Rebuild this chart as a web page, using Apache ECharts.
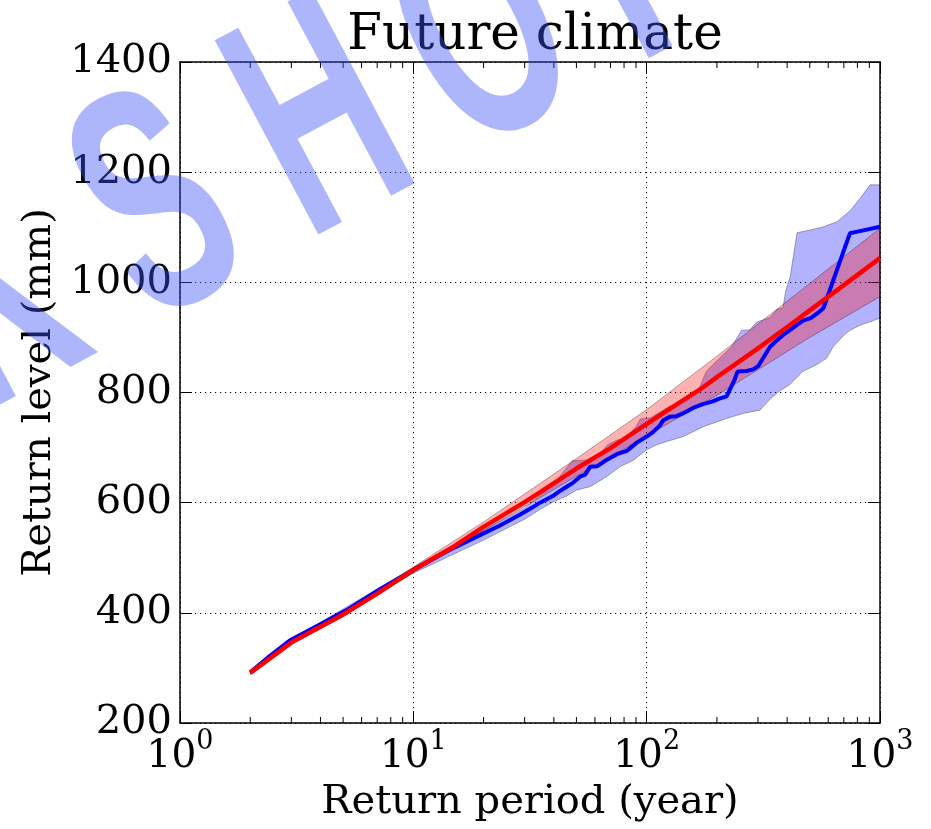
<!DOCTYPE html>
<html>
<head>
<meta charset="utf-8">
<script src="https://cdn.jsdelivr.net/npm/echarts@6/dist/echarts.min.js"></script>
<style>
  html, body { margin: 0; padding: 0; background: #fff; }
  #chart { width: 931px; height: 829px; }
</style>
</head>
<body>
<div id="chart"></div>
<script>
// Return periods (years) and return levels (mm)

// GEV fit (red line)
const fitLine = [
  [2, 291], [3, 346], [5, 397], [7, 435], [10, 478], [15, 521], [20, 556],
  [30, 601], [35, 619], [50, 662], [70, 699], [100, 743], [170, 806],
  [200, 828], [300, 880], [410, 922], [500, 949], [700, 995], [1000, 1044]
];
// Confidence band of the fit (red band)
const fitUpper = [
  [2, 294], [3, 349], [5, 401], [10, 483], [20, 565], [50, 680],
  [100, 769], [200, 866], [500, 998], [1000, 1098]
];
const fitLower = [
  [2, 288], [3, 343], [5, 393], [10, 473], [20, 549], [50, 648],
  [100, 721], [200, 795], [500, 900], [1000, 974]
];

// Empirical return levels (blue line)
const empiricalLine = [
  [2, 292], [2.43, 322], [2.96, 350], [3.98, 379], [5.18, 405], [7.19, 443],
  [10, 478], [14.3, 514], [19.3, 541], [23.4, 558], [28.6, 578], [32.6, 592],
  [34.9, 600], [39.6, 612], [42.4, 621], [45.4, 629], [48.3, 636], [51.8, 647],
  [54.5, 651], [57.2, 665], [61.3, 666], [67.6, 678], [74.5, 688], [82.2, 694],
  [90.7, 709], [100, 720], [106.4, 728], [114, 740], [117.5, 749], [125.7, 756],
  [134, 757], [143, 762], [158, 772], [174, 779], [192, 784], [205, 789],
  [220, 793], [238, 823], [245, 838], [268, 839], [286, 842], [301, 848],
  [338, 883], [362, 895], [386, 905], [414, 914], [448, 925], [471, 931],
  [505, 935], [540, 944], [572, 953], [743, 1089], [820, 1093], [1000, 1101]
];
// Sampling band of the empirical levels (blue band)
const empiricalUpper = [
  [2, 294], [3, 352], [5, 407], [10, 482], [20, 550], [30, 590], [40, 634],
  [48, 676], [57, 678], [62, 684], [68, 705], [75, 714], [81, 716], [90, 738],
  [94, 752], [104, 754], [125, 775], [144, 782], [165, 800], [180, 838],
  [195, 853], [231, 883], [255, 913], [277, 914], [296, 928], [338, 936],
  [362, 951], [384, 954], [395, 986], [412, 1010], [441, 1090], [501, 1095],
  [564, 1100], [654, 1110], [744, 1130], [821, 1152], [906, 1177], [1000, 1177]
];
const empiricalLower = [
  [2, 289], [3, 346], [5, 398], [10, 472], [20, 532], [30, 570], [35, 588],
  [39.7, 601], [45.4, 612], [50.1, 623], [57.2, 629], [67.3, 647], [76.7, 665],
  [87.7, 677], [100, 696], [110.6, 705], [122, 711], [143.5, 720], [164, 732],
  [175, 738], [220, 753], [259, 762], [306, 768], [338, 788], [372, 803],
  [412, 815], [466, 838], [532, 850], [590, 862], [630, 883], [700, 904],
  [744, 913], [821, 922], [1000, 935]
];

// Axis ticks
const levelMin = 200, levelMax = 1400, levelStep = 200;
const periodMin = 1, periodMax = 1000;
const minorPeriods = [2, 3, 4, 5, 6, 7, 8, 9, 20, 30, 40, 50, 60, 70, 80, 90,
  200, 300, 400, 500, 600, 700, 800, 900];

const SERIF = 'DejaVu Serif';
const chart = echarts.init(document.getElementById('chart'), null, { renderer: 'canvas' });

function band(upper, lower, fill) {
  return {
    type: 'custom',
    coordinateSystem: 'cartesian2d',
    xAxisIndex: 0, yAxisIndex: 0,
    silent: true,
    clip: true,
    data: upper,
    renderItem: function (params, api) {
      if (params.dataIndex !== 0) return null;
      const pts = upper.map(function (p) { return api.coord(p); })
        .concat(lower.slice().reverse().map(function (p) { return api.coord(p); }));
      return {
        type: 'polygon',
        shape: { points: pts },
        style: { fill: fill, stroke: 'rgba(0,0,0,0.3)', lineWidth: 1 }
      };
    }
  };
}

const minorTickSeries = {
  type: 'custom',
  coordinateSystem: 'cartesian2d',
  xAxisIndex: 0, yAxisIndex: 0,
  silent: true,
  clip: false,
  z: 10,
  data: minorPeriods.map(function (t) { return [t, levelMin]; }),
  renderItem: function (params, api) {
    const t = api.value(0);
    const b = api.coord([t, levelMin]);
    const top = api.coord([t, levelMax]);
    const st = { stroke: '#000', lineWidth: 1 };
    return {
      type: 'group',
      children: [
        { type: 'line', shape: { x1: b[0], y1: b[1], x2: b[0], y2: b[1] - 6 }, style: st },
        { type: 'line', shape: { x1: top[0], y1: top[1], x2: top[0], y2: top[1] + 6 }, style: st }
      ]
    };
  }
};

// Diagonal stamp across the upper left
const stampText = 'WORKSHOP';
const stampAnchor = 4;
const stampLetters = stampText.split('').map(function (ch, i) {
  const k = i - stampAnchor;
  return {
    type: 'text',
    x: 162 + k * 163,
    y: 218 - k * 87,
    rotation: 0.49,
    scaleX: 0.58,
    z: 100,
    silent: true,
    style: {
      text: ch,
      fill: 'rgba(60,80,245,0.42)',
      font: 'bold 320px "Liberation Sans"',
      align: 'center',
      verticalAlign: 'middle'
    }
  };
});

const dotted = { color: '#000', width: 1, type: [1.2, 3.8] };

const option = {
  animation: false,
  backgroundColor: '#fff',
  title: {
    text: 'Future climate',
    left: 530,
    top: 6,
    textAlign: 'center',
    textStyle: { fontFamily: SERIF, fontSize: 50, fontWeight: 'normal', color: '#000' }
  },
  grid: { left: 180, top: 62, width: 700, height: 661, containLabel: false, outerBoundsMode: 'none' },
  xAxis: [
    {
      type: 'log', logBase: 10, min: periodMin, max: periodMax, position: 'bottom',
      axisLine: { show: true, onZero: false, lineStyle: { color: '#000', width: 1.5 } },
      axisTick: { show: true, inside: true, length: 12, lineStyle: { color: '#000', width: 1 } },
      splitLine: { show: true, lineStyle: dotted },
      axisLabel: {
        margin: 5,
        showMinLabel: true, showMaxLabel: true,
        formatter: function (v) { return '{b|10}{s|' + Math.round(Math.log10(v)) + '}'; },
        rich: {
          b: { fontFamily: SERIF, fontSize: 39, color: '#000', lineHeight: 48, verticalAlign: 'bottom' },
          s: { fontFamily: SERIF, fontSize: 27, color: '#000', lineHeight: 30, verticalAlign: 'top' }
        }
      },
      name: 'Return period (year)',
      nameLocation: 'middle',
      nameGap: 60,
      nameTextStyle: { fontFamily: SERIF, fontSize: 40, color: '#000' }
    },
    {
      type: 'log', logBase: 10, min: periodMin, max: periodMax, position: 'top',
      axisLine: { show: true, onZero: false, lineStyle: { color: '#000', width: 1.5 } },
      axisTick: { show: true, inside: true, length: 12, lineStyle: { color: '#000', width: 1 } },
      axisLabel: { show: false },
      splitLine: { show: false }
    }
  ],
  yAxis: [
    {
      type: 'value', min: levelMin, max: levelMax, interval: levelStep, position: 'left',
      axisLine: { show: true, onZero: false, lineStyle: { color: '#000', width: 1.5 } },
      axisTick: { show: true, inside: true, length: 12, lineStyle: { color: '#000', width: 1 } },
      splitLine: { show: true, lineStyle: dotted },
      axisLabel: {
        margin: 8, fontFamily: SERIF, fontSize: 40, color: '#000',
        formatter: function (v) { return String(v); }
      },
      name: 'Return level (mm)',
      nameLocation: 'middle',
      nameGap: 108,
      nameRotate: 90,
      nameTextStyle: { fontFamily: SERIF, fontSize: 40, color: '#000' }
    },
    {
      type: 'value', min: levelMin, max: levelMax, interval: levelStep, position: 'right',
      axisLine: { show: true, onZero: false, lineStyle: { color: '#000', width: 1.5 } },
      axisTick: { show: true, inside: true, length: 12, lineStyle: { color: '#000', width: 1 } },
      axisLabel: { show: false },
      splitLine: { show: false }
    }
  ],
  series: [
    band(empiricalUpper, empiricalLower, 'rgba(0,0,255,0.3)'),
    band(fitUpper, fitLower, 'rgba(255,0,0,0.3)'),
    {
      type: 'line', xAxisIndex: 0, yAxisIndex: 0, data: empiricalLine,
      symbol: 'none', silent: true, z: 3,
      lineStyle: { color: '#0000ff', width: 4 }
    },
    {
      type: 'line', xAxisIndex: 0, yAxisIndex: 0, data: fitLine,
      symbol: 'none', silent: true, z: 4,
      lineStyle: { color: '#ff0000', width: 4.5 }
    },
    minorTickSeries
  ],
  graphic: { elements: stampLetters }
};

chart.setOption(option);
</script>
</body>
</html>
